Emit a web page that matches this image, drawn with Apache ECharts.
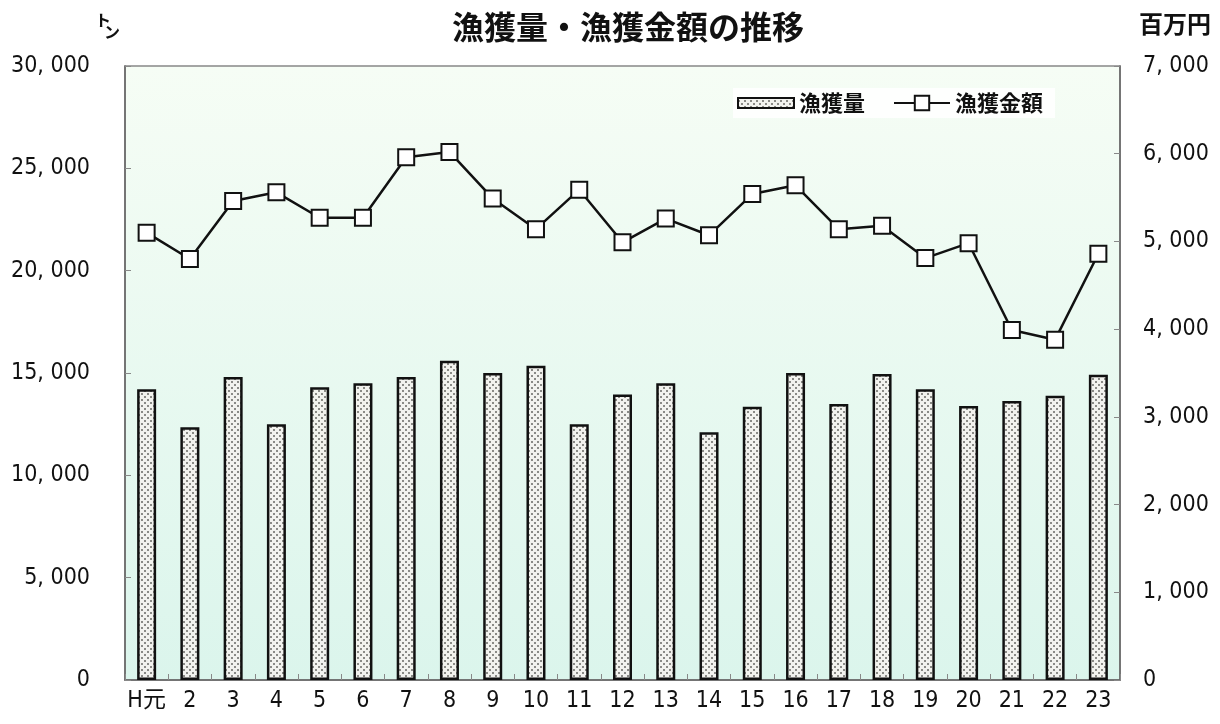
<!DOCTYPE html>
<html><head><meta charset="utf-8">
<script src="https://cdn.jsdelivr.net/npm/echarts@6/dist/echarts.min.js"></script>
<style>html,body{margin:0;padding:0;background:#fff}#c{width:1220px;height:724px}</style>
</head><body><div id="c"></div>
<script>
const categories = ['H元','2','3','4','5','6','7','8','9','10','11','12','13','14','15','16','17','18','19','20','21','22','23'];
const catchTons = [14200,12350,14800,12500,14300,14500,14800,15600,15000,15350,12500,13950,14500,12100,13350,15000,13480,14950,14200,13390,13630,13890,14920];
const catchValue = [5100,4800,5460,5560,5270,5270,5960,6020,5490,5140,5590,4990,5260,5070,5540,5640,5140,5180,4810,4980,3990,3880,4860];
const leftTicks = {min:0, max:30000, interval:5000};
const rightTicks = {min:0, max:7000, interval:1000};

const pc = document.createElement('canvas');
pc.width = 6; pc.height = 6;
const g = pc.getContext('2d');
g.fillStyle = '#f2f2ee'; g.fillRect(0,0,6,6);
g.fillStyle = '#8a8a86';
g.fillRect(0,0,2,2); g.fillRect(3,3,2,2);
const pattern = {image: pc, repeat: 'repeat'};

const FONT = '"Noto Sans CJK JP", sans-serif';
const NUMFONT = '"DejaVu Sans Condensed", "Noto Sans CJK JP", sans-serif';
const fmt = v => v === 0 ? '0' : v.toLocaleString('en-US').replace(/,/g, ', ');

const chart = echarts.init(document.getElementById('c'), null, {renderer:'canvas'});
chart.setOption({
  animation: false,
  textStyle: {fontFamily: FONT},
  title: {
    text: '漁獲量・漁獲金額の推移', left: 623, top: 6, textAlign: 'center',
    textStyle: {fontFamily: FONT, fontSize: 32, fontWeight: 'bold', color: '#111'}
  },
  graphic: [
    {type:'rect', z:-1, shape:{x:125,y:66,width:995,height:614},
     style:{fill:{type:'linear',x:0,y:0,x2:0,y2:1,colorStops:[{offset:0,color:'#f6fdf5'},{offset:1,color:'#dbf5ec'}]}}},
    {type:'text', left:95, top:12, style:{text:'ト', font:'bold 16px "Noto Sans CJK JP"', fill:'#111'}},
    {type:'text', left:104, top:24, style:{text:'ン', font:'bold 16px "Noto Sans CJK JP"', fill:'#111'}},
    {type:'text', left:1139, top:12, style:{text:'百万円', font:'bold 24px "Noto Sans CJK JP"', fill:'#111'}}
  ],
  legend: {
    left: 733, top: 88, itemGap: 28, itemWidth: 56, itemHeight: 18,
    backgroundColor: 'rgba(255,255,255,0.9)', padding: [4,12,4,4],
    textStyle: {fontFamily: FONT, fontSize: 22, color: '#111', fontWeight: 'bold'},
    data: [
      {name: '漁獲量', icon: 'path://M0,0M0,4H56V14H0ZM56,18'},
      {name: '漁獲金額'}
    ]
  },
  grid: {left: 125, right: 100, top: 66, bottom: 44, show: true, borderColor: '#888', borderWidth: 1.5, backgroundColor: 'transparent'},
  xAxis: {
    type: 'category', data: categories,
    axisLine: {lineStyle: {color: '#666', width: 1.5}},
    axisTick: {show: true, inside: true, length: 6, lineStyle: {color: '#888'}},
    axisLabel: {interval: 0, fontFamily: NUMFONT, fontSize: 23, color: '#111', margin: 10}
  },
  yAxis: [
    {type: 'value', min: leftTicks.min, max: leftTicks.max, interval: leftTicks.interval,
     axisLine: {show: true, lineStyle: {color: '#666', width: 1.5}},
     axisTick: {show: true, inside: true, length: 6, lineStyle: {color: '#888'}},
     splitLine: {show: false},
     axisLabel: {fontFamily: NUMFONT, fontSize: 23, color: '#111', margin: 35, formatter: fmt}},
    {type: 'value', min: rightTicks.min, max: rightTicks.max, interval: rightTicks.interval,
     axisLine: {show: true, lineStyle: {color: '#666', width: 1.5}},
     axisTick: {show: true, inside: true, length: 6, lineStyle: {color: '#888'}},
     splitLine: {show: false},
     axisLabel: {fontFamily: NUMFONT, fontSize: 23, color: '#111', margin: 23, formatter: fmt}}
  ],
  series: [
    {name: '漁獲量', type: 'bar', yAxisIndex: 0, data: catchTons, barWidth: 19,
     itemStyle: {color: pattern, borderColor: '#111', borderWidth: 2.5}},
    {name: '漁獲金額', type: 'line', yAxisIndex: 1, data: catchValue,
     symbol: 'rect', symbolSize: 16,
     lineStyle: {color: '#111', width: 2.5},
     itemStyle: {color: '#fff', borderColor: '#111', borderWidth: 2}}
  ]
});
</script></body></html>
